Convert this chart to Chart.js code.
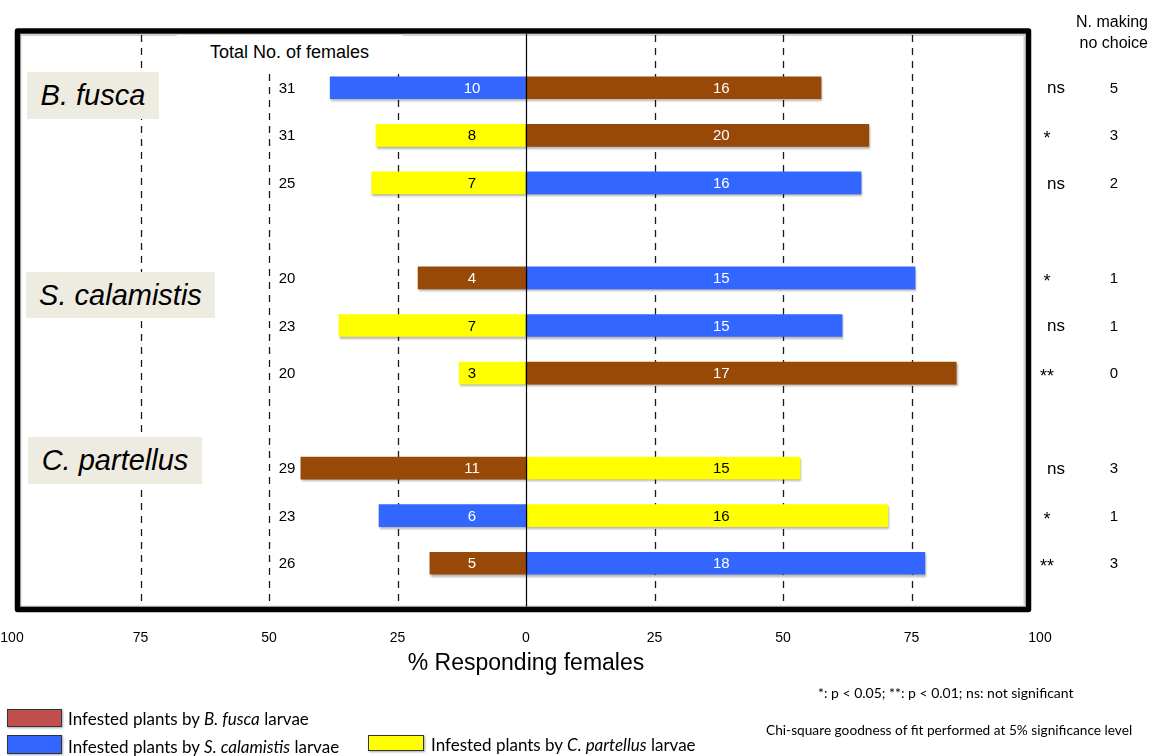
<!DOCTYPE html>
<html>
<head>
<meta charset="utf-8">
<script src="https://cdn.jsdelivr.net/npm/chart.js@4.4.1/dist/chart.umd.min.js"></script>
<style>
html,body{margin:0;padding:0;background:#fff;}
#wrap{position:relative;width:1153px;height:756px;overflow:hidden;background:#fff;}
#c{position:absolute;left:0;top:0;}
.t{position:absolute;white-space:nowrap;font-family:"Liberation Sans",Arial,sans-serif;color:#000;line-height:1;}
.sp{position:absolute;background:#EEECE1;font-family:"Liberation Sans",Arial,sans-serif;font-style:italic;font-size:29px;color:#000;display:flex;align-items:center;justify-content:center;white-space:nowrap;}
.lg{position:absolute;font-family:Lato,"Open Sans",sans-serif;font-size:17px;color:#000;white-space:nowrap;line-height:1;}
.sw{position:absolute;border:1.5px solid #333;box-sizing:border-box;box-shadow:1px 1px 2px rgba(0,0,0,0.35);}
.note{position:absolute;font-family:Lato,"Open Sans",sans-serif;font-size:14px;color:#000;white-space:nowrap;line-height:1;}
</style>
</head>
<body>
<div id="wrap">
<canvas id="c" width="1153" height="756"></canvas>
<div class="t" style="left:177px;top:35px;width:225px;height:35px;background:#fff;font-size:18px;text-align:center;line-height:35px;">Total No. of females</div>
<div class="sp" style="left:27px;top:72px;width:132px;height:47px;">B. fusca</div>
<div class="sp" style="left:26px;top:272px;width:189px;height:46px;">S. calamistis</div>
<div class="sp" style="left:28px;top:437px;width:174px;height:47px;">C. partellus</div>
<div class="t" style="right:5px;top:11px;font-size:16px;text-align:right;line-height:21px;">N. making<br>no choice</div>
<div class="sw" style="left:7px;top:709px;width:55px;height:18px;background:#C0504D;"></div>
<div class="lg" style="left:68px;top:710px;">Infested plants by <i>B. fusca</i> larvae</div>
<div class="sw" style="left:7px;top:735px;width:55px;height:19px;background:#3366FF;"></div>
<div class="lg" style="left:68px;top:738px;">Infested plants by <i>S. calamistis</i> larvae</div>
<div class="sw" style="left:368px;top:735px;width:56px;height:16px;background:#FFFF00;"></div>
<div class="lg" style="left:431px;top:736px;">Infested plants by <i>C. partellus</i> larvae</div>
<div class="note" style="left:818px;top:686px;">*: p &lt; 0.05; **: p &lt; 0.01; ns: not significant</div>
<div class="note" style="left:766px;top:723px;font-size:13.7px;">Chi-square goodness of fit performed at 5% significance level</div>
</div>
<script>
// Rows: three tests per moth species, with blank separator slots between species groups
const categories = [
  'B. fusca: S. calamistis vs B. fusca', 'B. fusca: C. partellus vs B. fusca', 'B. fusca: C. partellus vs S. calamistis', '',
  'S. calamistis: B. fusca vs S. calamistis', 'S. calamistis: C. partellus vs S. calamistis', 'S. calamistis: C. partellus vs B. fusca', ' ',
  'C. partellus: B. fusca vs C. partellus', 'C. partellus: S. calamistis vs C. partellus', 'C. partellus: B. fusca vs S. calamistis'
];
// % responding females (negative = left choice)
const pctBfusca = [57.4, 66.7, null, null, -21.0, null, 83.7, null, -43.8, null, -18.7];
const pctScalam = [-38.1, null, 65.2, null, 75.7, 61.5, null, null, null, -28.6, 77.6];
const pctCpart  = [null, -29.2, -30.0, null, null, -36.4, -13.0, null, 53.3, 70.4, null];
// number of females choosing each option (bar labels)
const nBfusca = [16, 20, null, null, 4, null, 17, null, 11, null, 5];
const nScalam = [10, null, 16, null, 15, 15, null, null, null, 6, 18];
const nCpart  = [null, 8, 7, null, null, 7, 3, null, 15, 16, null];
const totalFemales = [31, 31, 25, null, 20, 23, 20, null, 29, 23, 26];
const significance = ['ns', '*', 'ns', null, '*', 'ns', '**', null, 'ns', '*', '**'];
const noChoice = [5, 3, 2, null, 1, 1, 0, null, 3, 1, 3];
const xTicks = [-100, -75, -50, -25, 0, 25, 50, 75, 100];
const seriesNames = ['Infested plants by B. fusca larvae', 'Infested plants by S. calamistis larvae', 'Infested plants by C. partellus larvae'];

const FONT = '"Liberation Sans", Arial, sans-serif';
const FRAME = {left: 17.5, top: 31, right: 1028.5, bottom: 609.5};

const decor = {
  id: 'decor',
  beforeDatasetsDraw(chart) {
    const ctx = chart.ctx, xs = chart.scales.x;
    ctx.save();
    ctx.strokeStyle = '#1a1a1a';
    ctx.lineWidth = 1.3;
    ctx.setLineDash([7, 6]);
    xTicks.forEach(v => {
      if (v === 0 || Math.abs(v) === 100) return;
      const px = Math.round(xs.getPixelForValue(v)) + 0.5;
      ctx.beginPath();
      ctx.moveTo(px, FRAME.top + 4);
      ctx.lineTo(px, FRAME.bottom - 3);
      ctx.stroke();
    });
    ctx.restore();
    ctx.save();
    ctx.shadowColor = 'rgba(0,0,0,0.30)';
    ctx.shadowOffsetX = 1;
    ctx.shadowOffsetY = 2;
    ctx.shadowBlur = 2;
  },
  afterDatasetsDraw(chart) {
    const ctx = chart.ctx, xs = chart.scales.x, ys = chart.scales.y;
    ctx.restore();
    // zero line
    ctx.save();
    const zx = Math.round(xs.getPixelForValue(0)) + 0.5;
    ctx.strokeStyle = '#000';
    ctx.lineWidth = 1.2;
    ctx.beginPath();
    ctx.moveTo(zx, FRAME.top + 3);
    ctx.lineTo(zx, FRAME.bottom - 3);
    ctx.stroke();
    // counts inside bars
    ctx.font = '15px ' + FONT;
    ctx.textAlign = 'center';
    ctx.textBaseline = 'middle';
    chart.data.datasets.forEach((ds, di) => {
      const meta = chart.getDatasetMeta(di);
      meta.data.forEach((el, i) => {
        const n = ds.counts[i];
        if (n == null || ds.data[i] == null) return;
        const lx = ds.data[i] < 0 ? xs.getPixelForValue(-10.5) : xs.getPixelForValue(38);
        ctx.fillStyle = ds.labelColor;
        ctx.fillText(String(n), lx, el.y + 1);
      });
    });
    // side columns
    ctx.fillStyle = '#000';
    categories.forEach((c, i) => {
      const y = ys.getPixelForValue(i);
      if (totalFemales[i] != null) {
        ctx.font = '15px ' + FONT;
        ctx.textAlign = 'center';
        ctx.fillText(String(totalFemales[i]), 287, y + 1);
      }
      if (significance[i] != null) {
        const s = significance[i];
        ctx.textAlign = 'center';
        if (s === 'ns') { ctx.font = '17px ' + FONT; ctx.fillText(s, 1056, y + 1); }
        else { ctx.font = '18px ' + FONT; ctx.fillText(s, 1047, y + 4); }
      }
      if (noChoice[i] != null) {
        ctx.font = '15px ' + FONT;
        ctx.textAlign = 'center';
        ctx.fillText(String(noChoice[i]), 1114, y + 1);
      }
    });
    ctx.restore();
  },
  afterDraw(chart) {
    const ctx = chart.ctx;
    ctx.save();
    // inner soft shadow
    ctx.strokeStyle = 'rgba(0,0,0,0.18)';
    ctx.lineWidth = 2;
    ctx.strokeRect(FRAME.left + 3, FRAME.top + 4, FRAME.right - FRAME.left - 7, FRAME.bottom - FRAME.top - 7);
    ctx.strokeStyle = '#000';
    ctx.lineWidth = 5.5;
    ctx.lineJoin = 'round';
    ctx.strokeRect(FRAME.left, FRAME.top, FRAME.right - FRAME.left, FRAME.bottom - FRAME.top);
    ctx.restore();
  }
};

new Chart(document.getElementById('c'), {
  type: 'bar',
  data: {
    labels: categories,
    datasets: [
      {label: seriesNames[0], data: pctBfusca, counts: nBfusca, backgroundColor: '#984807', labelColor: '#ffffff'},
      {label: seriesNames[1], data: pctScalam, counts: nScalam, backgroundColor: '#3366FF', labelColor: '#ffffff'},
      {label: seriesNames[2], data: pctCpart, counts: nCpart, backgroundColor: '#FFFF00', labelColor: '#000000'}
    ]
  },
  options: {
    indexAxis: 'y',
    responsive: false,
    animation: false,
    devicePixelRatio: 1,
    layout: {padding: {left: 12, right: 113, top: 64, bottom: 79}},
    plugins: {legend: {display: false}, tooltip: {enabled: false}},
    datasets: {bar: {barThickness: 22, borderWidth: 0}},
    scales: {
      x: {
        type: 'linear', min: -100, max: 100, stacked: true,
        grid: {display: false, drawTicks: false},
        border: {display: false},
        afterBuildTicks(s) { s.ticks = xTicks.map(v => ({value: v})); },
        ticks: {padding: 43, color: '#000', font: {family: FONT, size: 14}, maxRotation: 0, callback: v => String(Math.abs(v))},
        title: {display: true, text: '% Responding females', color: '#000', font: {family: FONT, size: 23}, padding: {top: 0, bottom: 0}},
        afterFit(s) { s.height = 90; s.paddingLeft = 0; s.paddingRight = 0; }
      },
      y: {stacked: true, display: false}
    }
  },
  plugins: [decor]
});
</script>
</body>
</html>
